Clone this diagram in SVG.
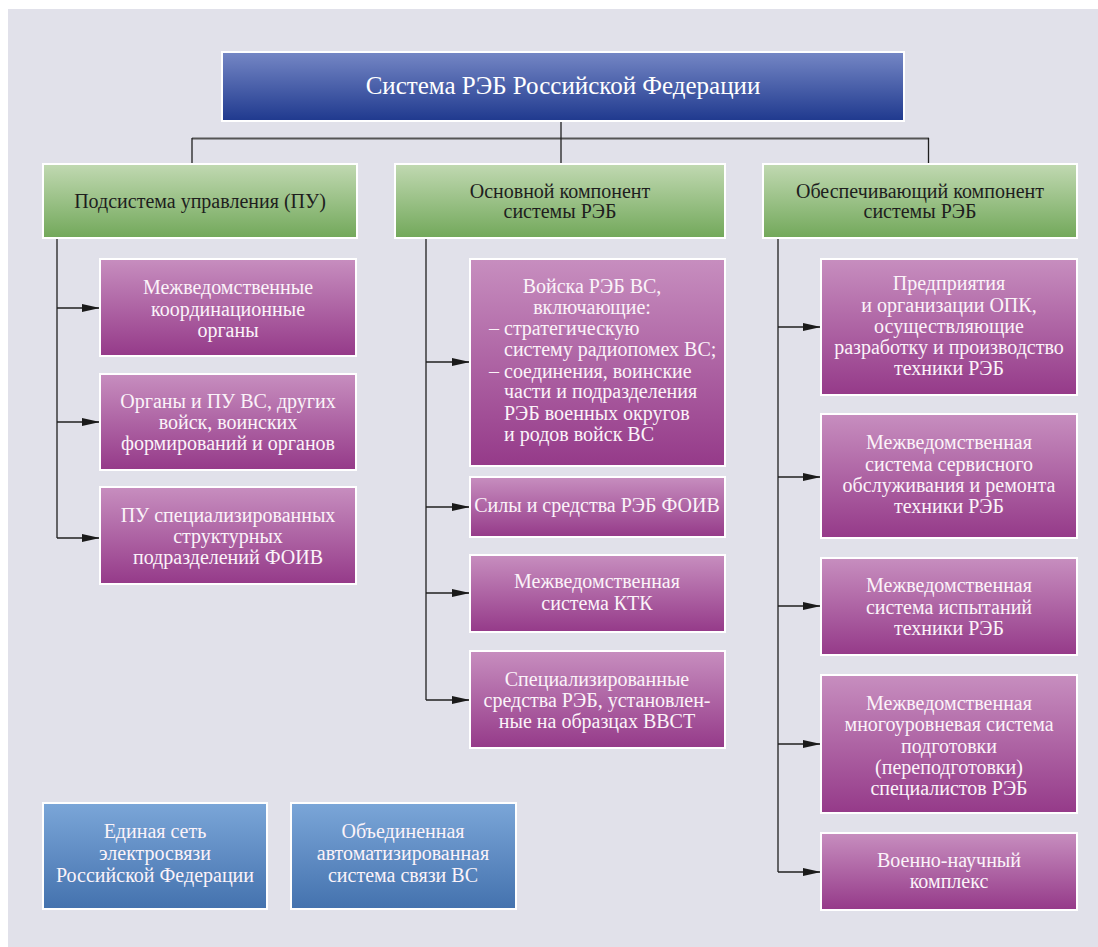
<svg xmlns="http://www.w3.org/2000/svg" width="1098" height="947" viewBox="0 0 1098 947">
<defs>
<linearGradient id="gTitle" x1="0" y1="0" x2="0" y2="1"><stop offset="0" stop-color="#7587c5"/><stop offset="1" stop-color="#1f398e"/></linearGradient>
<linearGradient id="gGreen" x1="0" y1="0" x2="0" y2="1"><stop offset="0" stop-color="#c1d9b2"/><stop offset="1" stop-color="#72a85a"/></linearGradient>
<linearGradient id="gPurple" x1="0" y1="0" x2="0" y2="1"><stop offset="0" stop-color="#c78ebf"/><stop offset="1" stop-color="#953a89"/></linearGradient>
<linearGradient id="gBlue" x1="0" y1="0" x2="0" y2="1"><stop offset="0" stop-color="#7ba6d8"/><stop offset="1" stop-color="#4472ae"/></linearGradient>
<marker id="arr" viewBox="0 0 18 8" refX="18" refY="4" markerWidth="18" markerHeight="8" markerUnits="userSpaceOnUse" orient="auto"><path d="M0,0 L18,4 L0,8 z" fill="#1a1a1a"/></marker>
<style>
.box{stroke:#ffffff;stroke-width:2}
.t{font-family:"Liberation Serif","DejaVu Serif",serif;font-size:20px;fill:#fbf3f9;text-anchor:middle}
.tl{font-family:"Liberation Serif","DejaVu Serif",serif;font-size:20px;fill:#fbf3f9;text-anchor:start}
.th{font-family:"Liberation Serif","DejaVu Serif",serif;font-size:20px;fill:#1e1e1e;text-anchor:middle}
.tt{font-family:"Liberation Serif","DejaVu Serif",serif;font-size:25px;fill:#ffffff;text-anchor:middle}
.c{fill:none;stroke:#1f1f1f;stroke-width:1.3}
.ca{fill:none;stroke:#1f1f1f;stroke-width:1.3;marker-end:url(#arr)}
.top{fill:none;stroke:#555555;stroke-width:1.8}
</style>
</defs>
<rect x="0" y="0" width="1098" height="947" fill="#ffffff"/>
<rect x="8" y="9" width="1090" height="938" fill="#e1e1ea"/>

<g id="connectors">
<line class="top" x1="192" y1="138.5" x2="929" y2="138.5"/>
<line class="c" x1="561" y1="121" x2="561" y2="164"/>
<line class="c" x1="192" y1="138" x2="192" y2="164"/>
<line class="c" x1="928.5" y1="138" x2="928.5" y2="164"/>
<line class="c" x1="57" y1="238" x2="57" y2="538"/>
<line class="ca" x1="57" y1="308" x2="100" y2="308"/>
<line class="ca" x1="57" y1="422" x2="100" y2="422"/>
<line class="ca" x1="57" y1="538" x2="100" y2="538"/>
<line class="c" x1="426" y1="238" x2="426" y2="700"/>
<line class="ca" x1="426" y1="362" x2="470" y2="362"/>
<line class="ca" x1="426" y1="507" x2="470" y2="507"/>
<line class="ca" x1="426" y1="593" x2="470" y2="593"/>
<line class="ca" x1="426" y1="700" x2="470" y2="700"/>
<line class="c" x1="778" y1="238" x2="778" y2="872"/>
<line class="ca" x1="778" y1="327" x2="821" y2="327"/>
<line class="ca" x1="778" y1="477" x2="821" y2="477"/>
<line class="ca" x1="778" y1="606" x2="821" y2="606"/>
<line class="ca" x1="778" y1="744" x2="821" y2="744"/>
<line class="ca" x1="778" y1="872" x2="821" y2="872"/>
</g>

<g id="root">
<rect class="box" x="222" y="52" width="682" height="69" fill="url(#gTitle)"/>
<text class="tt" x="563" y="94">Система РЭБ Российской Федерации</text>
</g>

<g id="pu">
<rect class="box" x="43" y="164" width="314" height="74" fill="url(#gGreen)"/>
<text class="th" x="200" y="208">Подсистема управления (ПУ)</text>
</g>
<g id="main">
<rect class="box" x="395" y="164" width="330" height="74" fill="url(#gGreen)"/>
<text class="th" x="560" y="198">Основной компонент</text>
<text class="th" x="560" y="218">системы РЭБ</text>
</g>
<g id="support">
<rect class="box" x="763" y="164" width="314" height="74" fill="url(#gGreen)"/>
<text class="th" x="920" y="198">Обеспечивающий компонент</text>
<text class="th" x="920" y="218">системы РЭБ</text>
</g>

<g id="l1">
<rect class="box" x="100" y="259" width="256" height="97" fill="url(#gPurple)"/>
<text class="t" x="228" y="294">Межведомственные</text>
<text class="t" x="228" y="316">координационные</text>
<text class="t" x="228" y="337">органы</text>
</g>
<g id="l2">
<rect class="box" x="100" y="374" width="256" height="96" fill="url(#gPurple)"/>
<text class="t" x="228" y="408">Органы и ПУ ВС,  других</text>
<text class="t" x="228" y="429">войск, воинских</text>
<text class="t" x="228" y="450">формирований и органов</text>
</g>
<g id="l3">
<rect class="box" x="100" y="487" width="256" height="97" fill="url(#gPurple)"/>
<text class="t" x="228" y="522">ПУ специализированных</text>
<text class="t" x="228" y="543">структурных</text>
<text class="t" x="228" y="564">подразделений ФОИВ</text>
</g>

<g id="m1">
<rect class="box" x="470" y="259" width="255" height="207" fill="url(#gPurple)"/>
<text class="t" x="592" y="293">Войска РЭБ ВС,</text>
<text class="t" x="592" y="314">включающие:</text>
<text class="tl" x="489" y="335">–</text>
<text class="tl" x="504" y="335">стратегическую</text>
<text class="tl" x="504" y="356">систему радиопомех ВС;</text>
<text class="tl" x="489" y="378">–</text>
<text class="tl" x="504" y="378">соединения, воинские</text>
<text class="tl" x="504" y="398">части и подразделения</text>
<text class="tl" x="504" y="420">РЭБ военных округов</text>
<text class="tl" x="504" y="441">и родов войск ВС</text>
</g>
<g id="m2">
<rect class="box" x="470" y="477" width="255" height="60" fill="url(#gPurple)"/>
<text class="t" x="597" y="512">Силы и средства РЭБ ФОИВ</text>
</g>
<g id="m3">
<rect class="box" x="470" y="555" width="255" height="77" fill="url(#gPurple)"/>
<text class="t" x="597" y="588">Межведомственная</text>
<text class="t" x="597" y="610">система КТК</text>
</g>
<g id="m4">
<rect class="box" x="470" y="651" width="255" height="97" fill="url(#gPurple)"/>
<text class="t" x="597" y="686">Специализированные</text>
<text class="t" x="597" y="707">средства РЭБ, установлен-</text>
<text class="t" x="597" y="728">ные на образцах ВВСТ</text>
</g>

<g id="r1">
<rect class="box" x="821" y="259" width="256" height="136" fill="url(#gPurple)"/>
<text class="t" x="949" y="290">Предприятия</text>
<text class="t" x="949" y="312">и организации ОПК,</text>
<text class="t" x="949" y="333">осуществляющие</text>
<text class="t" x="949" y="354">разработку и производство</text>
<text class="t" x="949" y="375">техники РЭБ</text>
</g>
<g id="r2">
<rect class="box" x="821" y="414" width="256" height="124" fill="url(#gPurple)"/>
<text class="t" x="949" y="449">Межведомственная</text>
<text class="t" x="949" y="471">система сервисного</text>
<text class="t" x="949" y="492">обслуживания и ремонта</text>
<text class="t" x="949" y="513">техники РЭБ</text>
</g>
<g id="r3">
<rect class="box" x="821" y="558" width="256" height="97" fill="url(#gPurple)"/>
<text class="t" x="949" y="592">Межведомственная</text>
<text class="t" x="949" y="614">система испытаний</text>
<text class="t" x="949" y="635">техники РЭБ</text>
</g>
<g id="r4">
<rect class="box" x="821" y="675" width="256" height="138" fill="url(#gPurple)"/>
<text class="t" x="949" y="710">Межведомственная</text>
<text class="t" x="949" y="731">многоуровневая система</text>
<text class="t" x="949" y="753">подготовки</text>
<text class="t" x="949" y="774">(переподготовки)</text>
<text class="t" x="949" y="795">специалистов РЭБ</text>
</g>
<g id="r5">
<rect class="box" x="821" y="833" width="256" height="77" fill="url(#gPurple)"/>
<text class="t" x="949" y="867">Военно-научный</text>
<text class="t" x="949" y="888">комплекс</text>
</g>

<g id="b1">
<rect class="box" x="43" y="803" width="224" height="106" fill="url(#gBlue)"/>
<text class="t" x="155" y="838">Единая сеть</text>
<text class="t" x="155" y="860">электросвязи</text>
<text class="t" x="155" y="882">Российской Федерации</text>
</g>
<g id="b2">
<rect class="box" x="291" y="803" width="225" height="106" fill="url(#gBlue)"/>
<text class="t" x="403" y="838">Объединенная</text>
<text class="t" x="403" y="860">автоматизированная</text>
<text class="t" x="403" y="882">система связи ВС</text>
</g>
</svg>
